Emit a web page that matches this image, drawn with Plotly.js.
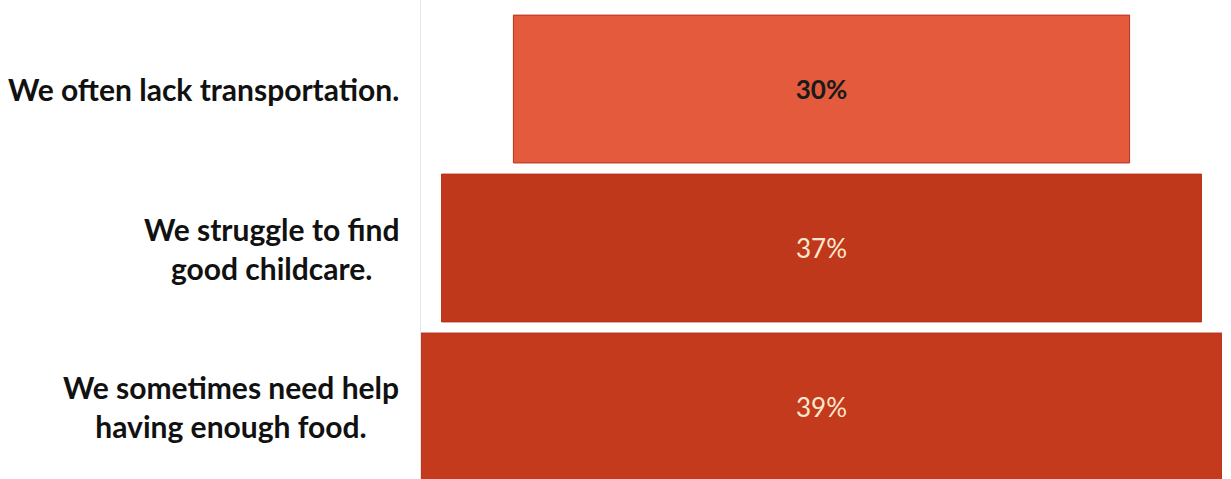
<!DOCTYPE html>
<html>
<head>
<meta charset="utf-8">
<script src="https://cdn.plot.ly/plotly-3.0.1.min.js"></script>
<style>html,body{margin:0;padding:0;background:#fff;}#chart{width:1231px;height:479px;}</style>
</head>
<body>
<div id="chart"></div>
<script>
const categories = [
  "We often lack transportation.",
  "We struggle to find<br>good childcare.",
  "We sometimes need help<br>having enough food."
];
const values = [30, 37, 39];
const valueLabels = ["<b>30%</b>", "37%", "39%"];
const barColors = ["#E35A3C", "#C0381B", "#C43A1D"];
const textColors = ["#1a1a1a", "#FDE8CF", "#FDE8CF"];

const trace = {
  type: "funnel",
  y: categories,
  x: values,
  text: valueLabels,
  textinfo: "text",
  textposition: "inside",
  insidetextanchor: "middle",
  constraintext: "none",
  textfont: {family: "Lato, 'Open Sans', sans-serif", size: 26, color: textColors},
  marker: {color: barColors, line: {color: "#B8321A", width: 1}},
  connector: {visible: false},
  hoverinfo: "skip"
};

const annotations = categories.map((c, i) => ({
  xref: "paper", yref: "y", x: 0, y: c,
  xanchor: "right", yanchor: "middle", xshift: -20,
  text: c, align: "center", showarrow: false,
  font: {family: "Lato, 'Open Sans', sans-serif", size: 30, color: "#111", weight: "bold"}
}));

const layout = {
  width: 1231, height: 479,
  margin: {l: 421, r: 9, t: 0, b: 0, pad: 0},
  paper_bgcolor: "#fff", plot_bgcolor: "#fff",
  showlegend: false,
  funnelgap: 0.07,
  xaxis: {visible: false, range: [-19.5, 19.5], fixedrange: true},
  yaxis: {range: [2.453, -0.56], showticklabels: false, ticks: "", showgrid: false,
          zeroline: false, showline: true, linecolor: "#e6e6e6", linewidth: 1, layer: "below traces"},
  annotations: annotations
};

Plotly.newPlot("chart", [trace], layout, {displayModeBar: false, staticPlot: true});
</script>
</body>
</html>
